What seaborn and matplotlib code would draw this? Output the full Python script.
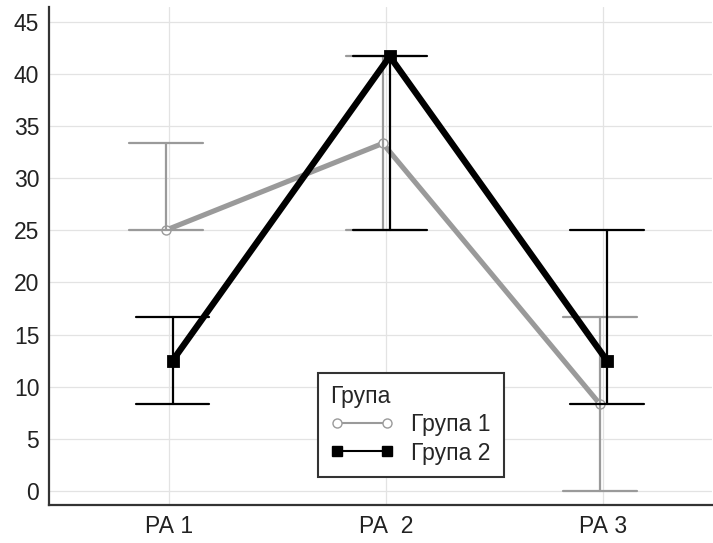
import numpy as np
import pandas as pd
import seaborn as sns
import matplotlib
matplotlib.use("Agg")
import matplotlib.pyplot as plt
from matplotlib.lines import Line2D

# Summary values per period: centre value with lower / upper bound
categories = ["РА 1", "РА  2", "РА 3"]
groups = ["Група 1", "Група 2"]

g1_center = [25.0, 33.33, 8.33]
g1_low = [25.0, 25.0, 0.0]
g1_high = [33.33, 41.67, 16.67]

g2_center = [12.5, 41.67, 12.5]
g2_low = [8.33, 25.0, 8.33]
g2_high = [16.67, 41.67, 25.0]

yticks = [0, 5, 10, 15, 20, 25, 30, 35, 40, 45]

gray = "#9a9a9a"
black = "#000000"

# Long table: each cell holds (low, centre, high) so the median is the centre
rows = []
for grp, cen, lo, hi in [(groups[0], g1_center, g1_low, g1_high),
                         (groups[1], g2_center, g2_low, g2_high)]:
    for cat, c, l, h in zip(categories, cen, lo, hi):
        for v in (l, c, h):
            rows.append({"period": cat, "group": grp, "value": v})
df = pd.DataFrame(rows)

sns.set_theme(style="white")
plt.rcParams["font.family"] = ["Liberation Sans", "DejaVu Sans"]

fig = plt.figure(figsize=(7.13, 5.43), dpi=100)
ax = fig.add_axes([0.0687, 0.070, 0.93, 0.917])

sns.pointplot(
    data=df, x="period", y="value", hue="group",
    order=categories, hue_order=groups,
    palette=[gray, black],
    estimator=np.median,
    errorbar=lambda v: (v.min(), v.max()),
    markers=["o", "s"], linestyles=["-", "-"],
    dodge=0.032, capsize=0.34,
    err_kws={"linewidth": 1.6},
    legend=False, ax=ax,
)

# Style the connecting lines and markers per group
for ln in ax.lines:
    if ln.get_marker() == "o":
        ln.set_linewidth(3.7)
        ln.set_markersize(6.5)
        ln.set_markerfacecolor("white")
        ln.set_markeredgecolor(gray)
        ln.set_markeredgewidth(1.0)
    elif ln.get_marker() == "s":
        ln.set_linewidth(4.6)
        ln.set_markersize(7)
        ln.set_markerfacecolor(black)
        ln.set_markeredgecolor(black)

ax.set_xlim(-0.553, 2.50)
ax.set_ylim(-1.34, 46.4)
ax.set_yticks(yticks)
ax.set_xlabel("")
ax.set_ylabel("")

ax.grid(True, color="#e3e3e3", linewidth=0.9)
ax.set_axisbelow(True)
for side in ("top", "right"):
    ax.spines[side].set_visible(False)
for side in ("left", "bottom"):
    ax.spines[side].set_color("#333333")
    ax.spines[side].set_linewidth(1.6)
ax.tick_params(axis="both", direction="in", length=9, width=1.5,
               color="#333333", labelsize=16.5, labelcolor="#222222")
ax.tick_params(axis="y", pad=7)
ax.tick_params(axis="x", pad=7.5)

handles = [
    Line2D([], [], color=gray, lw=1.5, marker="o", ms=6.5,
           mfc="white", mec=gray, mew=1.0),
    Line2D([], [], color=black, lw=1.5, marker="s", ms=6.5,
           mfc=black, mec=black),
]
leg = ax.legend(handles, groups, title="Група", loc="lower left",
                bbox_to_anchor=(0.405, 0.056), borderaxespad=0,
                numpoints=2, handlelength=2.8, handletextpad=0.75,
                fontsize=16.5, title_fontsize=16.5, alignment="left",
                fancybox=False, framealpha=1, edgecolor="#333333",
                borderpad=0.55, labelspacing=0.22)
leg.get_frame().set_linewidth(1.5)

fig.savefig("out.png", dpi=100)
